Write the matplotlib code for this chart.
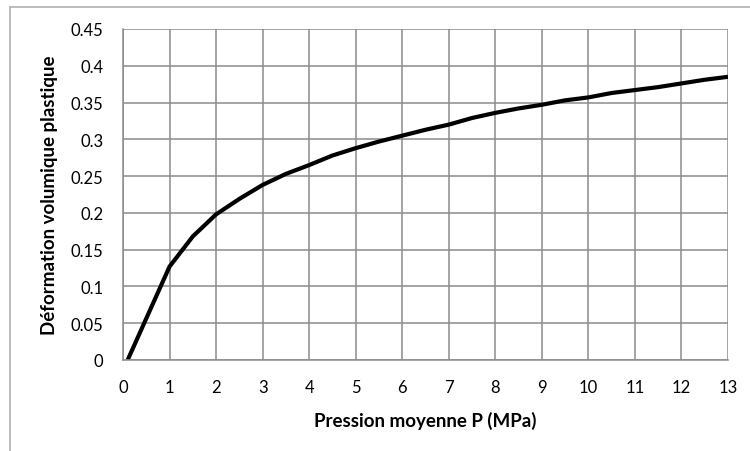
import matplotlib
matplotlib.use("Agg")
import matplotlib.pyplot as plt
from matplotlib.patches import Rectangle

pressure = [0.1, 1, 1.5, 2, 2.5, 3, 3.5, 4, 4.5, 5, 5.5, 6, 6.5, 7, 7.5, 8, 8.5,
            9, 9.5, 10, 10.5, 11, 11.5, 12, 12.5, 13]
deformation = [0.0, 0.127, 0.168, 0.198, 0.219, 0.238, 0.253, 0.265, 0.278, 0.288,
               0.297, 0.305, 0.313, 0.320, 0.329, 0.336, 0.342, 0.347, 0.353, 0.357,
               0.363, 0.367, 0.371, 0.376, 0.381, 0.385]
x_ticks = list(range(0, 14))
y_ticks = [0, 0.05, 0.1, 0.15, 0.2, 0.25, 0.3, 0.35, 0.4, 0.45]
y_tick_labels = ["0", "0.05", "0.1", "0.15", "0.2", "0.25", "0.3", "0.35", "0.4", "0.45"]

plt.rcParams['font.family'] = ['Lato', 'DejaVu Sans']

fig = plt.figure(figsize=(7.5, 4.52), dpi=100)
fig.patches.append(Rectangle((10/750, -0.1), 1.2, (452-8)/452 + 0.1,
                             transform=fig.transFigure, fill=False,
                             edgecolor='#b0b0b0', linewidth=1.2))
ax = fig.add_axes([123/750, 91/452, 605/750, 331/452])
ax.plot(pressure, deformation, color='black', linewidth=3.0, solid_capstyle='butt')
ax.set_xlim(0, 13)
ax.set_ylim(0, 0.45)
ax.set_xticks(x_ticks)
ax.set_yticks(y_ticks)
ax.set_yticklabels(y_tick_labels)
ax.grid(True, color='#8c8c8c', linewidth=1.1)
ax.set_axisbelow(True)
for s in ['top', 'right']:
    ax.spines[s].set_visible(False)
for s in ['left', 'bottom']:
    ax.spines[s].set_color('#8c8c8c')
    ax.spines[s].set_linewidth(1.1)
ax.tick_params(length=0, labelsize=12, colors='black')
ax.tick_params(axis='x', pad=14)
ax.tick_params(axis='y', pad=14)
ax.set_xlabel('Pression moyenne P (MPa)', fontsize=13.5, fontweight='bold', labelpad=11)
ax.set_ylabel('Déformation volumique plastique', fontsize=13.5, fontweight='bold', labelpad=9)
fig.savefig('out.png', dpi=100)
